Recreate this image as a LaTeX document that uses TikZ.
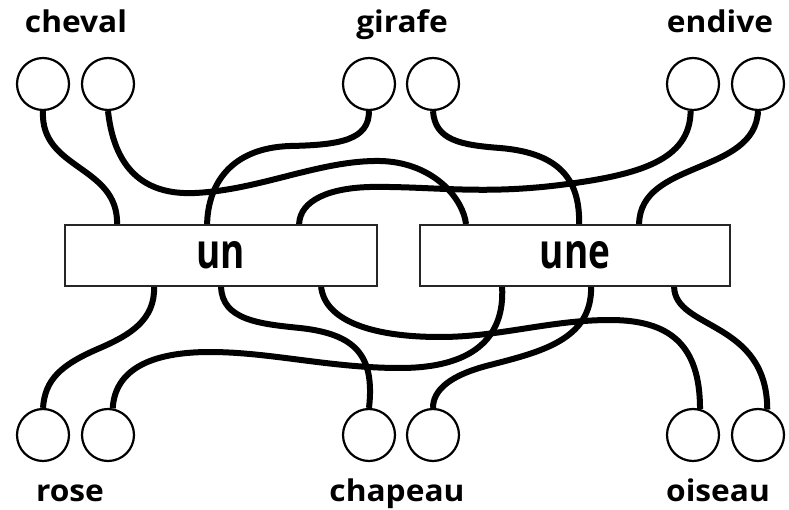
\documentclass[tikz,border=0pt]{standalone}
\usepackage{graphicx}
\usepackage{fontspec}
\newfontfamily\labfont{Open Sans}
\usetikzlibrary{calc}
\pgfdeclarelayer{background}
\pgfsetlayers{background,main}
\newcommand\lbl[1]{\scalebox{1.06}[1]{#1}}
\newcommand\boxlbl[1]{\scalebox{0.76}[1]{#1}}
\begin{document}
\begin{tikzpicture}[x=1pt,y=-1pt,
  ball/.style={circle,draw=black,line width=2.2pt,fill=white,minimum size=52pt,inner sep=0pt},
  wordbox/.style={rectangle,draw=black!85,line width=1.8pt,fill=white,minimum height=61pt,inner sep=0pt,
    font=\labfont\bfseries\fontsize{48.6}{50}\selectfont},
  word/.style={anchor=base,inner sep=0pt,font=\labfont\bfseries\fontsize{29.9}{31}\selectfont},
  wire/.style={line width=6pt,draw=black}]
\useasboundingbox (0,0) rectangle (789,510);
% boxes
\node[wordbox,minimum width=312pt] (un) at (221,255.5) {\boxlbl{un}};
\node[wordbox,minimum width=310pt] (une) at (575,255.5) {\boxlbl{une}};
% top circles
\node[ball] (chvL) at (43,84) {};
\node[ball] (chvR) at (108,84) {};
\node[ball] (girL) at (369,84) {};
\node[ball] (girR) at (433,84) {};
\node[ball] (endL) at (693,84) {};
\node[ball] (endR) at (758,84) {};
% bottom circles
\node[ball] (rosL) at (43,435) {};
\node[ball] (rosR) at (108,435) {};
\node[ball] (chpL) at (369,435) {};
\node[ball] (chpR) at (433,435) {};
\node[ball] (oisL) at (693,435) {};
\node[ball] (oisR) at (758,435) {};
% labels
\node[word] (tcheval) at (76,33) {\lbl{cheval}};
\node[word] (tgirafe) at (402,33) {\lbl{girafe}};
\node[word] (tendive) at (720,33) {\lbl{endive}};
\node[word] (trose) at (70,501) {\lbl{rose}};
\node[word] (tchapeau) at (397,501) {\lbl{chapeau}};
\node[word] (toiseau) at (718,501) {\lbl{oiseau}};
% attachment points
\coordinate (unT1) at ($(un.north west)+(53,0)$);
\coordinate (unT2) at ($(un.north west)+(143,0)$);
\coordinate (unT3) at ($(un.north west)+(235,0)$);
\coordinate (unB1) at ($(un.south west)+(90,0)$);
\coordinate (unB2) at ($(un.south west)+(157,0)$);
\coordinate (unB3) at ($(un.south west)+(257,0)$);
\coordinate (uneT1) at ($(une.north west)+(47,0)$);
\coordinate (uneT2) at ($(une.north west)+(160,0)$);
\coordinate (uneT3) at ($(une.north west)+(220,0)$);
\coordinate (uneB1) at ($(une.south west)+(83,0)$);
\coordinate (uneB2) at ($(une.south west)+(172,0)$);
\coordinate (uneB3) at ($(une.south west)+(255,0)$);
\begin{pgfonlayer}{background}
\draw[wire] (chvL.south) .. controls (40,170) and (118,165) .. (unT1);
\draw[wire] (chvR.south) .. controls (115,175) and (150,195) .. (195,193)
  .. controls (260,190) and (320,160) .. (380,161)
  .. controls (430,162) and (462,195) .. (uneT1);
\draw[wire] (girL.south) .. controls (369,140) and (340,145) .. (290,146)
  .. controls (230,148) and (208,185) .. (unT2);
\draw[wire] (girR.south) .. controls (435,140) and (460,145) .. (500,148)
  .. controls (560,153) and (580,180) .. (uneT2);
\draw[wire] (endL.265) .. controls (690,160) and (640,175) .. (560,185)
  .. controls (480,195) and (430,186) .. (370,187)
  .. controls (330,188) and (300,200) .. (unT3);
\draw[wire] (endR.south) .. controls (755,175) and (640,160) .. (uneT3);
\draw[wire] (unB1) .. controls (155,320) and (130,335) .. (100,348)
  .. controls (60,365) and (45,380) .. (rosL.north);
\draw[wire] (unB2) .. controls (222,320) and (260,324) .. (300,328)
  .. controls (355,334) and (375,355) .. (chpL.north);
\draw[wire] (unB3) .. controls (325,320) and (370,337) .. (440,337)
  .. controls (500,337) and (550,320) .. (610,320)
  .. controls (670,320) and (700,345) .. (oisL.75);
\draw[wire] (rosR.80) .. controls (115,370) and (150,352) .. (210,352)
  .. controls (270,352) and (330,368) .. (400,368)
  .. controls (470,368) and (505,340) .. (uneB1);
\draw[wire] (uneB2) .. controls (592,340) and (540,352) .. (490,365)
  .. controls (450,375) and (433,390) .. (chpR.north);
\draw[wire] (uneB3) .. controls (675,330) and (767,320) .. (oisR.70);
\end{pgfonlayer}
\end{tikzpicture}
\end{document}
